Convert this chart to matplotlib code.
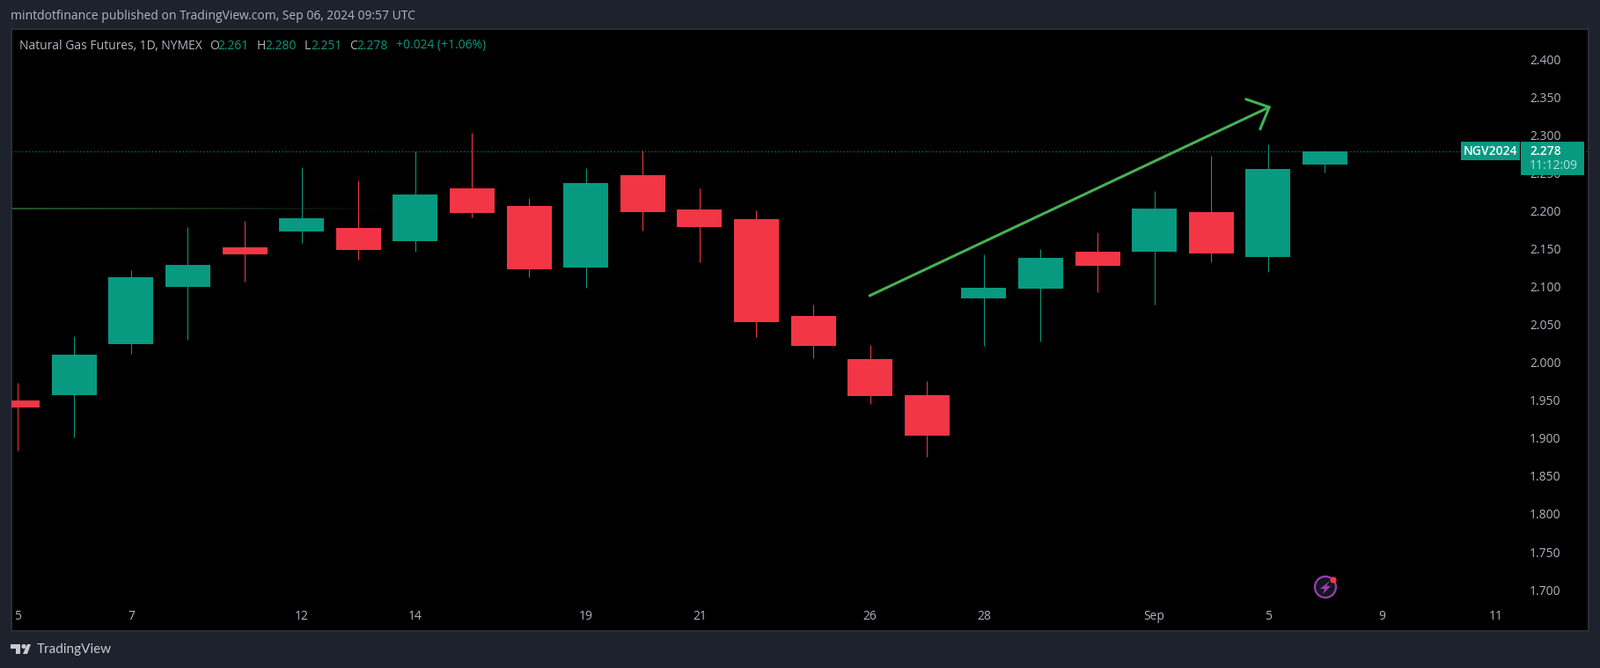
#!/usr/bin/env python
import matplotlib
matplotlib.use('Agg')
import matplotlib.pyplot as plt
import numpy as np
from matplotlib.patches import Circle, Polygon, Rectangle

matplotlib.rcParams['font.family'] = 'Open Sans'

W, H = 1818, 759

# daily candles
opens = [1.950, 1.957, 2.024, 2.100, 2.152, 2.173, 2.177, 2.160, 2.230, 2.206, 2.125, 2.247,
         2.202, 2.189, 2.061, 2.004, 1.957, 2.084, 2.097, 2.146, 2.146, 2.198, 2.139, 2.261]
highs = [1.973, 2.034, 2.121, 2.179, 2.187, 2.257, 2.240, 2.278, 2.303, 2.217, 2.256, 2.279,
         2.229, 2.201, 2.076, 2.023, 1.975, 2.142, 2.150, 2.171, 2.226, 2.272, 2.288, 2.280]
lows = [1.883, 1.901, 2.011, 2.030, 2.107, 2.158, 2.135, 2.146, 2.191, 2.112, 2.098, 2.174,
        2.132, 2.033, 2.006, 1.945, 1.876, 2.022, 2.027, 2.093, 2.076, 2.132, 2.119, 2.251]
closes = [1.941, 2.010, 2.112, 2.128, 2.143, 2.190, 2.148, 2.221, 2.197, 2.123, 2.237, 2.198,
          2.178, 2.053, 2.022, 1.956, 1.903, 2.098, 2.138, 2.127, 2.203, 2.144, 2.255, 2.278]

x_tick_pos = [0, 2, 5, 7, 10, 12, 15, 17, 20, 22, 24, 26]
x_tick_labels = ['5', '7', '12', '14', '19', '21', '26', '28', 'Sep', '5', '9', '11']
y_ticks = [1.70, 1.75, 1.80, 1.85, 1.90, 1.95, 2.00, 2.05, 2.10, 2.15, 2.20, 2.25, 2.30, 2.35, 2.40]

last_price = 2.278
old_level = 2.2032
old_level_end = 6.7
arrow_x = [14.99, 22.02]
arrow_y = [2.0879, 2.3367]
head_x = [21.61, 22.02, 21.86]
head_y = [2.3472, 2.3367, 2.3077]

BG = '#1e222d'
BORDER = '#2a2e39'
UP = '#089981'
DOWN = '#f23645'
TEXT = '#b2b5be'
ARROW = '#45b255'

# panel in pixels
left, right, top, bottom = 13, 1805, 33, 717
# pixel mapping of the scales
x0_px, step_px = 19.7, 64.6
y_400, y_170 = 67.2, 670.1
per_price = (y_170 - y_400) / 0.70

fig = plt.figure(figsize=(W / 100, H / 100), dpi=100, facecolor=BG)
ax = fig.add_axes([left / W, 1 - bottom / H, (right - left) / W, (bottom - top) / H], facecolor='black')
ax.set_xlim((left - x0_px) / step_px, (right - x0_px) / step_px)
ax.set_ylim(2.40 - (bottom - y_400) / per_price, 2.40 + (y_400 - top) / per_price)

for s in ax.spines.values():
    s.set_color(BORDER)
    s.set_linewidth(1.5)

# candles
for i in range(len(opens)):
    c = UP if closes[i] >= opens[i] else DOWN
    ax.vlines(i, lows[i], highs[i], color=c, linewidth=0.75, zorder=2)
    ax.bar(i, abs(closes[i] - opens[i]), bottom=min(opens[i], closes[i]), width=0.79, color=c, linewidth=0, zorder=3)

# price lines
ax.axhline(last_price, color=UP, linewidth=0.8, linestyle=(0, (1, 2.5)), zorder=1)
# the old level fades out to the right
edges = np.linspace(-0.2, old_level_end, 41)
for k in range(40):
    ax.plot(edges[k:k + 2], [old_level, old_level], color='#2f7a3a', linewidth=1.2,
            alpha=0.85 * (1 - k / 40), solid_capstyle='butt', zorder=1)

# drawn arrow
ax.plot(arrow_x, arrow_y, color=ARROW, linewidth=2.2, solid_capstyle='round', zorder=4)
ax.plot(head_x, head_y, color=ARROW, linewidth=2.2, solid_capstyle='round', solid_joinstyle='round', zorder=4)

# axes text inside the panel
ax.yaxis.tick_right()
ax.set_yticks(y_ticks)
ax.set_yticklabels(['%.3f' % v for v in y_ticks], color=TEXT, fontsize=10)
for lab in ax.get_yticklabels():
    lab.set_verticalalignment('center_baseline')
ax.tick_params(axis='y', length=0, pad=-48.2)
ax.set_xticks(x_tick_pos)
ax.set_xticklabels(x_tick_labels, color=TEXT, fontsize=10)
ax.tick_params(axis='x', length=0, pad=-17)

# header text
fig.text(12 / W, 1 - 19 / H, 'mintdotfinance published on TradingView.com, Sep 06, 2024 09:57 UTC',
         color=TEXT, fontsize=10, va='center')
y_leg = 1 - 52 / H
legend_parts = [(22, 'Natural Gas Futures, 1D, NYMEX', TEXT), (238, 'O', TEXT), (247, '2.261', UP),
                (292, 'H', TEXT), (301, '2.280', UP), (346, 'L', TEXT), (353, '2.251', UP),
                (397, 'C', TEXT), (405, '2.278', UP), (450, '+0.024 (+1.06%)', UP)]
for px, s, c in legend_parts:
    fig.text(px / W, y_leg, s, color=c, fontsize=10, va='center')

# price tags
fig.add_artist(Rectangle((1660 / W, 1 - 182 / H), 67 / W, 21 / H, transform=fig.transFigure,
                         facecolor=UP, edgecolor='none', zorder=5))
fig.add_artist(Rectangle((1728 / W, 1 - 199 / H), 72 / W, 38 / H, transform=fig.transFigure,
                         facecolor=UP, edgecolor='none', zorder=5))
fig.text(1693.5 / W, 1 - 172 / H, 'NGV2024', color='white', fontsize=10, fontweight='semibold', ha='center', va='center', zorder=6)
fig.text(1738 / W, 1 - 172 / H, '2.278', color='white', fontsize=10, fontweight='semibold', va='center', zorder=6)
fig.text(1738 / W, 1 - 189 / H, '11:12:09', color='#b5e0d8', fontsize=10, va='center', zorder=6)

# bolt badge
ax_px = fig.add_axes([0, 0, 1, 1], facecolor='none')
ax_px.set_xlim(0, W)
ax_px.set_ylim(H, 0)
ax_px.axis('off')
ax_px.add_patch(Circle((1506, 667), 12, facecolor='#131722', edgecolor='#9c3fb0', linewidth=1.6))
ax_px.add_patch(Polygon([(1511, 660), (1500, 669), (1505, 669), (1503, 675), (1512, 666), (1507, 666)],
                        facecolor='#9c3fb0', edgecolor='none'))
ax_px.add_patch(Circle((1515, 659), 3.6, facecolor=DOWN, edgecolor='none'))

# logo
LOGO = '#c8cad1'
ax_px.add_patch(Polygon([(12, 732), (23, 732), (23, 743), (18, 743), (18, 737), (12, 737)], facecolor=LOGO, edgecolor='none'))
ax_px.add_patch(Circle((27, 734.5), 2.6, facecolor=LOGO, edgecolor='none'))
ax_px.add_patch(Polygon([(26, 743), (31, 732), (35, 732), (31, 743)], facecolor=LOGO, edgecolor='none'))
fig.text(42 / W, 1 - 738 / H, 'TradingView', color=LOGO, fontsize=11, family='Lato', va='center')

fig.savefig('out.png', dpi=100, facecolor=BG)
